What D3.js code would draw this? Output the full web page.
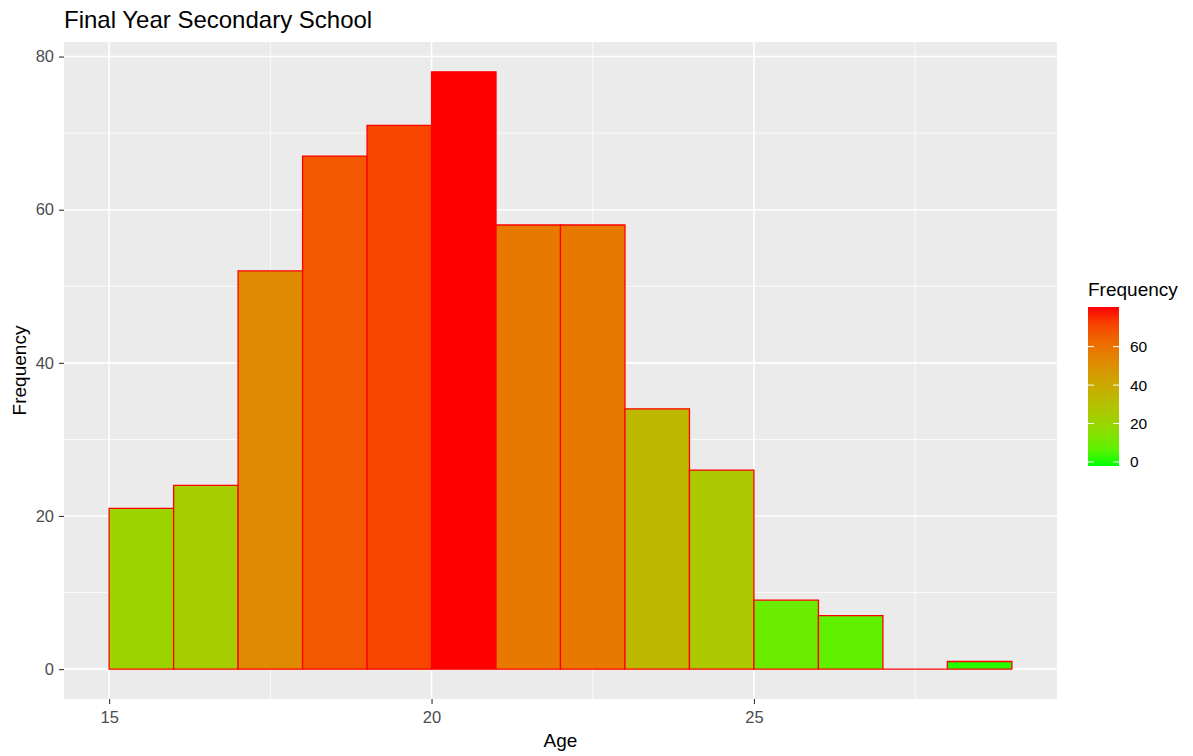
<!DOCTYPE html>
<html>
<head>
<meta charset="utf-8">
<script src="https://cdn.jsdelivr.net/npm/d3@7"></script>
<style>
  body { margin: 0; background: #fff; }
  text { font-family: "Liberation Sans", Arial, sans-serif; }
</style>
</head>
<body>
<div id="chart"></div>
<script>
// histogram bins: left edge of each 1-year bin and its count
var binStart = [15, 16, 17, 18, 19, 20, 21, 22, 23, 24, 25, 26, 27, 28];
var counts   = [21, 24, 52, 67, 71, 78, 58, 58, 34, 26, 9, 7, 0, 1];
var xMajor = [15, 20, 25];
var xMinor = [17.5, 22.5, 27.5];
var yMajor = [0, 20, 40, 60, 80];
var yMinor = [10, 30, 50, 70];
var legendTicks = [0, 20, 40, 60];

var W = 1193, H = 756;
var svg = d3.select("#chart").append("svg")
  .attr("width", W).attr("height", H);

var panel = {left: 64, right: 1057, top: 42, bottom: 699};

var xMin = 15, xMax = 29, yTop = d3.max(counts);
var xPad = (xMax - xMin) * 0.05, yPad = yTop * 0.05;

var x = d3.scaleLinear().domain([xMin - xPad, xMax + xPad]).range([panel.left, panel.right]);
var y = d3.scaleLinear().domain([-yPad, yTop + yPad]).range([panel.bottom, panel.top]);

// fill colour: green -> red over the count range (Lab, like ggplot)
var color = d3.scaleLinear().domain([0, yTop])
  .range(["#00FF00", "#FF0000"]).interpolate(d3.interpolateLab);

// panel background
svg.append("rect")
  .attr("x", panel.left).attr("y", panel.top)
  .attr("width", panel.right - panel.left).attr("height", panel.bottom - panel.top)
  .attr("fill", "#EBEBEB");

// grid lines
var grid = svg.append("g");
grid.selectAll(".xminor").data(xMinor).enter().append("line")
  .attr("x1", d => x(d)).attr("x2", d => x(d))
  .attr("y1", panel.top).attr("y2", panel.bottom)
  .attr("stroke", "#fff").attr("stroke-width", 0.8);
grid.selectAll(".yminor").data(yMinor).enter().append("line")
  .attr("y1", d => y(d)).attr("y2", d => y(d))
  .attr("x1", panel.left).attr("x2", panel.right)
  .attr("stroke", "#fff").attr("stroke-width", 0.8);
grid.selectAll(".xmajor").data(xMajor).enter().append("line")
  .attr("x1", d => x(d)).attr("x2", d => x(d))
  .attr("y1", panel.top).attr("y2", panel.bottom)
  .attr("stroke", "#fff").attr("stroke-width", 1.6);
grid.selectAll(".ymajor").data(yMajor).enter().append("line")
  .attr("y1", d => y(d)).attr("y2", d => y(d))
  .attr("x1", panel.left).attr("x2", panel.right)
  .attr("stroke", "#fff").attr("stroke-width", 1.6);

// bars (paths, so an empty bin still shows its outline along zero)
svg.append("g").selectAll("path").data(binStart).enter().append("path")
  .attr("d", function(d, i) {
    var x0 = x(d), x1 = x(d + 1), y0 = y(0), y1 = y(counts[i]);
    return "M" + x0 + "," + y0 + "H" + x1 + "V" + y1 + "H" + x0 + "Z";
  })
  .attr("fill", (d, i) => color(counts[i]))
  .attr("stroke", "#FF0000")
  .attr("stroke-width", 1.3);

// axes
var xAxis = d3.axisBottom(x).tickValues(xMajor).tickSize(5).tickPadding(7);
var yAxis = d3.axisLeft(y).tickValues(yMajor).tickSize(5).tickPadding(5);

var gx = svg.append("g").attr("transform", "translate(0," + panel.bottom + ")").call(xAxis);
var gy = svg.append("g").attr("transform", "translate(" + panel.left + ",0)").call(yAxis);
[gx, gy].forEach(function(g) {
  g.attr("font-size", 16.5).attr("font-family", "Liberation Sans, Arial, sans-serif");
  g.select(".domain").remove();
  g.selectAll(".tick line").attr("stroke", "#333").attr("stroke-width", 1.1);
  g.selectAll(".tick text").attr("fill", "#4D4D4D");
});

// axis titles
svg.append("text")
  .attr("x", (panel.left + panel.right) / 2).attr("y", 747)
  .attr("text-anchor", "middle").style("font-size", "19px").attr("fill", "#000")
  .text("Age");
svg.append("text")
  .attr("transform", "translate(26," + ((panel.top + panel.bottom) / 2) + ") rotate(-90)")
  .attr("text-anchor", "middle").style("font-size", "19px").attr("fill", "#000")
  .text("Frequency");

// title
svg.append("text")
  .attr("x", 64).attr("y", 28)
  .style("font-size", "24px").attr("fill", "#000")
  .text("Final Year Secondary School");

// colour bar legend
var leg = {x: 1088, w: 31, top: 307, bottom: 466};
var ly = d3.scaleLinear().domain([0, yTop]).range([462, 312]);

var defs = svg.append("defs");
var grad = defs.append("linearGradient").attr("id", "fillgrad")
  .attr("x1", 0).attr("y1", 1).attr("x2", 0).attr("y2", 0);
var stops = d3.range(0, 11).map(i => i / 10);
grad.selectAll("stop").data(stops).enter().append("stop")
  .attr("offset", d => d)
  .attr("stop-color", d => color(ly.invert(leg.bottom - d * (leg.bottom - leg.top))));

svg.append("text")
  .attr("x", leg.x).attr("y", 296)
  .style("font-size", "19px").attr("fill", "#000")
  .text("Frequency");

svg.append("rect")
  .attr("x", leg.x).attr("y", leg.top)
  .attr("width", leg.w).attr("height", leg.bottom - leg.top)
  .attr("fill", "url(#fillgrad)");

var lt = svg.append("g").selectAll("g").data(legendTicks).enter().append("g");
lt.append("line")
  .attr("x1", leg.x).attr("x2", leg.x + 6)
  .attr("y1", d => ly(d)).attr("y2", d => ly(d))
  .attr("stroke", "#fff").attr("stroke-width", 1);
lt.append("line")
  .attr("x1", leg.x + leg.w - 6).attr("x2", leg.x + leg.w)
  .attr("y1", d => ly(d)).attr("y2", d => ly(d))
  .attr("stroke", "#fff").attr("stroke-width", 1);
lt.append("text")
  .attr("x", leg.x + leg.w + 11).attr("y", d => ly(d))
  .attr("dy", "0.35em")
  .style("font-size", "15.5px").attr("fill", "#000")
  .text(d => d);
</script>
</body>
</html>
